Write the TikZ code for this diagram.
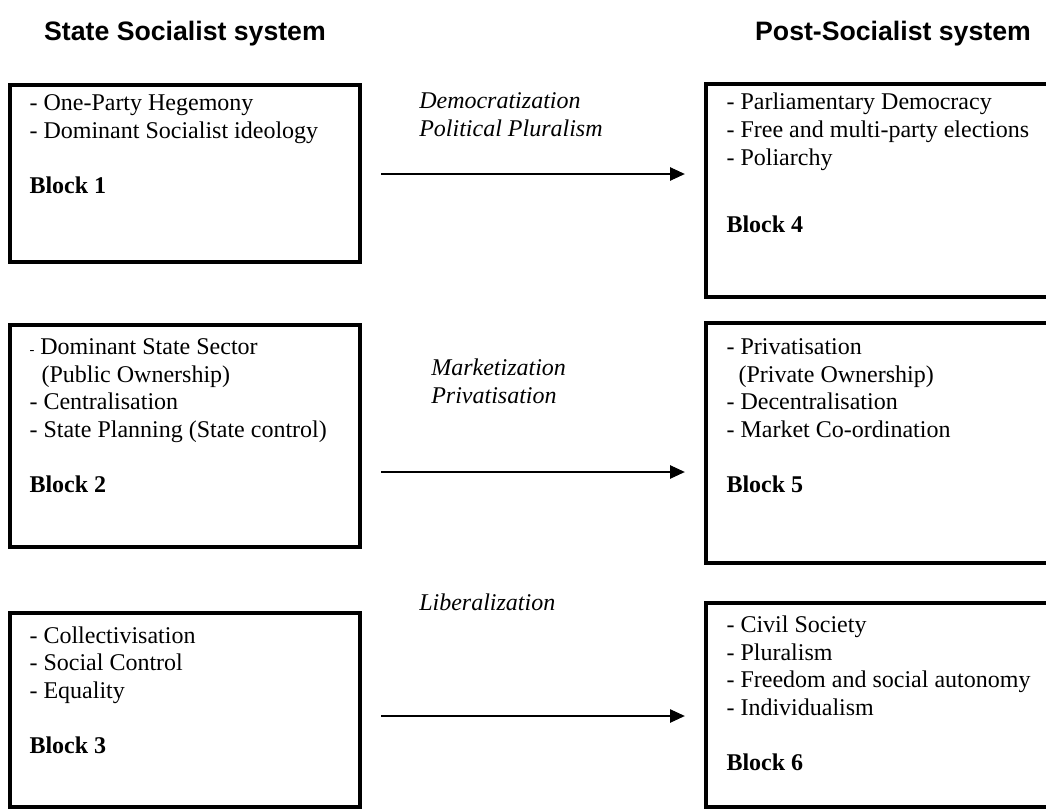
\documentclass[tikz,border=0pt]{standalone}
\usepackage{fontspec}
\setmainfont{Liberation Serif}
\newfontfamily\headfont{Liberation Sans}
\usetikzlibrary{arrows.meta}

\begin{document}
\begin{tikzpicture}[x=0.75pt,y=-0.75pt,
  blockbox/.style={draw=black, line width=2.6pt, inner sep=0pt},
  blocktext/.style={anchor=base west, align=left, inner sep=0pt, font=\fontsize{18}{20.7}\selectfont},
  changetext/.style={anchor=base west, align=left, inner sep=0pt, font=\fontsize{18}{20.7}\selectfont\itshape},
  systemhead/.style={anchor=base, inner sep=0pt, font=\headfont\bfseries\fontsize{20}{24}\selectfont},
  flow/.style={-{Triangle[length=11pt,width=10pt]}, line width=0.8pt, shorten <=14.6pt, shorten >=14.6pt}]
\clip (0,0) rectangle (1046,810);
\node[systemhead] (h1) at (185,40) {State Socialist system};
\node[systemhead] (h2) at (893,40) {Post-Socialist system};
\node[blockbox, minimum width=262.5pt, minimum height=132.75pt] (b1) at (185,173.5) {};
\node[blockbox, minimum width=262.5pt, minimum height=166.5pt] (b2) at (185,436) {};
\node[blockbox, minimum width=262.5pt, minimum height=145.5pt] (b3) at (185,710) {};
\node[blockbox, minimum width=259.5pt, minimum height=159.75pt] (b4) at (879,190.5) {};
\node[blockbox, minimum width=259.5pt, minimum height=180pt] (b5) at (879,443) {};
\node[blockbox, minimum width=259.5pt, minimum height=153pt] (b6) at (879,705) {};
% text sits on the baseline of its last line (the "Block" line)
\node[blocktext] (t1) at ([shift={(21,110)}]b1.north west) {- One-Party Hegemony\\ - Dominant Socialist ideology\\[20.7pt] \textbf{Block 1}};
\node[blocktext] (t2) at ([shift={(21,169.5)}]b2.north west) {{\fontsize{11}{11}\selectfont -} Dominant State Sector\\ \hspace*{0.5em}(Public Ownership)\\ - Centralisation\\ - State Planning (State control)\\[20.7pt] \textbf{Block 2}};
\node[blocktext] (t3) at ([shift={(21,142.5)}]b3.north west) {- Collectivisation\\ - Social Control\\ - Equality\\[20.7pt] \textbf{Block 3}};
\node[blocktext] (t4) at ([shift={(22,150)}]b4.north west) {- Parliamentary Democracy\\ - Free and multi-party elections\\ - Poliarchy\\[29.7pt] \textbf{Block 4}};
\node[blocktext] (t5) at ([shift={(22,171.5)}]b5.north west) {- Privatisation\\ \hspace*{0.5em}(Private Ownership)\\ - Decentralisation\\ - Market Co-ordination\\[20.7pt] \textbf{Block 5}};
\node[blocktext] (t6) at ([shift={(22,169.5)}]b6.north west) {- Civil Society\\ - Pluralism\\ - Freedom and social autonomy\\ - Individualism\\[20.7pt] \textbf{Block 6}};
\node[changetext] (l1) at (419,136) {Democratization\\ Political Pluralism};
\node[changetext] (l2) at (431,403) {Marketization\\ Privatisation};
\node[changetext] (l3) at (419,610) {Liberalization};
\coordinate (a1) at (0,174);
\coordinate (a2) at (0,472);
\coordinate (a3) at (0,716);
\draw[flow] (b1.east |- a1) -- (b4.west |- a1);
\draw[flow] (b2.east |- a2) -- (b5.west |- a2);
\draw[flow] (b3.east |- a3) -- (b6.west |- a3);
\end{tikzpicture}
\end{document}
